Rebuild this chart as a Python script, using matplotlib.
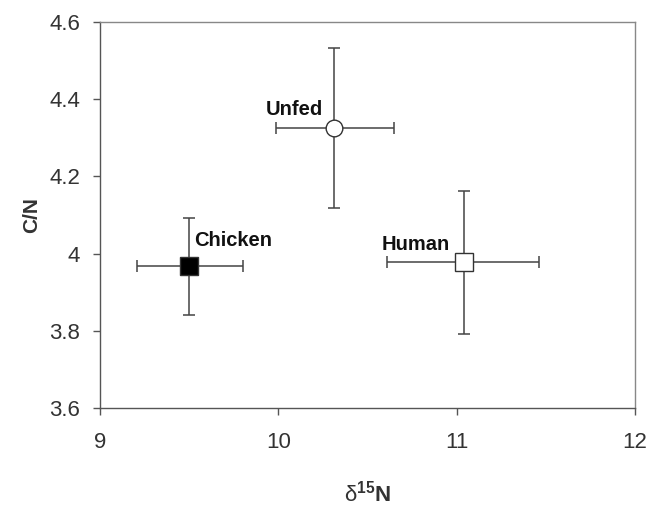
import matplotlib.pyplot as plt

#- Data:

groups = ['Chicken', 'Unfed', 'Human']
d15n = [9.50, 10.31, 11.04]
d15n_lo = [9.21, 9.99, 10.61]
d15n_hi = [9.80, 10.65, 11.46]
cn = [3.968, 4.325, 3.978]
cn_lo = [3.842, 4.117, 3.793]
cn_hi = [4.093, 4.532, 4.162]

markers = ['s', 'o', 's']
faces = ['black', 'white', 'white']
msizes = [12.5, 12, 12.5]

# label placement (data coords) and alignment
label_x = [9.53, 10.25, 10.58]
label_y = [4.033, 4.372, 4.023]
label_ha = ['left', 'right', 'left']

plt.rcParams['font.family'] = ['Liberation Sans', 'DejaVu Sans']
plt.rcParams['mathtext.fontset'] = 'custom'
plt.rcParams['mathtext.rm'] = 'Liberation Sans'
plt.rcParams['mathtext.bf'] = 'Liberation Sans:bold'

fig = plt.figure(figsize=(6.48, 5.07), dpi=100)
ax = fig.add_axes([0.154, 0.195, 0.826, 0.762])

for i in range(len(groups)):
    xerr = [[d15n[i] - d15n_lo[i]], [d15n_hi[i] - d15n[i]]]
    yerr = [[cn[i] - cn_lo[i]], [cn_hi[i] - cn[i]]]
    ax.errorbar(d15n[i], cn[i], xerr=xerr, yerr=yerr, fmt='none',
                ecolor='#444444', elinewidth=1.1, capsize=4, capthick=1.1,
                zorder=2)
    ax.plot(d15n[i], cn[i], marker=markers[i], markersize=msizes[i],
            markerfacecolor=faces[i], markeredgecolor='#333333',
            markeredgewidth=1.0, linestyle='none', zorder=3)
    ax.text(label_x[i], label_y[i], groups[i], ha=label_ha[i], va='center',
            fontsize=14.5, fontweight='bold', color='#111111')

ax.set_xlim(9, 12)
ax.set_ylim(3.6, 4.6)
ax.set_xticks([9, 10, 11, 12])
ax.set_xticklabels(['9', '10', '11', '12'])
ax.set_yticks([3.6, 3.8, 4.0, 4.2, 4.4, 4.6])
ax.set_yticklabels(['3.6', '3.8', '4', '4.2', '4.4', '4.6'])

for s in ax.spines.values():
    s.set_color('#888888')
    s.set_linewidth(1.0)
ax.spines['left'].set_color('#555555')
ax.spines['bottom'].set_color('#555555')

ax.tick_params(direction='out', length=5, width=1.0, color='#555555',
               labelsize=16, labelcolor='#333333')
ax.tick_params(axis='x', pad=12)
ax.tick_params(axis='y', pad=9)

ax.set_xlabel(r'$\mathrm{\delta}^{\mathbf{15}}$N', fontsize=16,
              fontweight='bold', color='#333333', labelpad=20)
ax.set_ylabel('C/N', fontsize=15, fontweight='bold', color='#333333',
              labelpad=6)

fig.savefig('out.png', dpi=100)
